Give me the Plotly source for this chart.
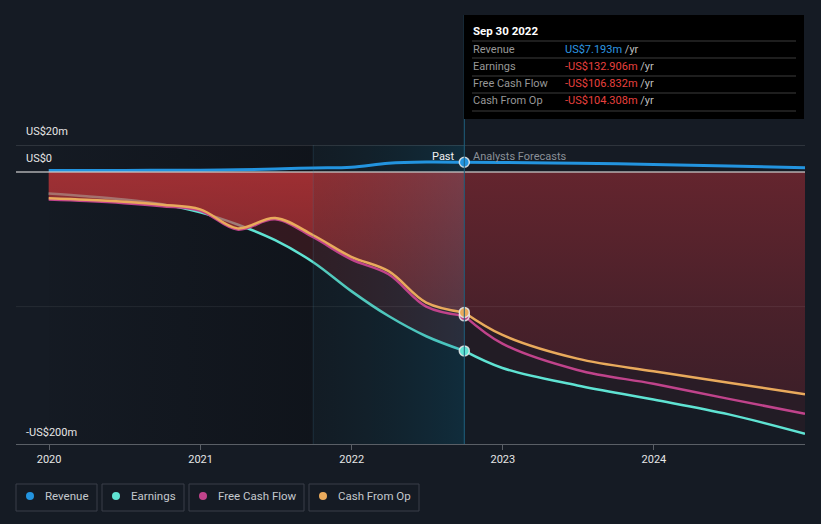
import plotly.graph_objects as go

# ---------------- data (US$ millions) ----------------
past_dates = ["2019-12-31", "2020-03-31", "2020-06-30", "2020-09-30", "2020-12-31",
              "2021-03-31", "2021-06-30", "2021-09-30", "2021-12-31", "2022-03-31",
              "2022-06-30", "2022-09-30"]
revenue_past = [1.1, 1.1, 1.1, 1.2, 1.2, 1.6, 2.2, 3.0, 3.5, 6.5, 7.4, 7.193]
earnings_past = [-16.0, -18.0, -20.4, -24.0, -30.0, -39.0, -50.7, -67.0, -88.5, -107.0, -122.0, -132.906]
fcf_past = [-20.5, -21.6, -23.2, -25.5, -28.8, -42.8, -35.2, -48.5, -65.0, -76.0, -100.0, -106.832]
cfo_past = [-19.6, -20.7, -22.2, -24.4, -27.8, -41.9, -34.2, -47.0, -63.0, -73.7, -97.0, -104.308]

fc_dates = ["2022-09-30", "2022-12-31", "2023-06-30", "2023-12-31", "2024-06-30", "2024-12-31"]
revenue_fc = [7.193, 7.0, 6.4, 5.6, 4.4, 3.1]
earnings_fc = [-132.906, -145.6, -158.5, -169.0, -180.0, -194.4]
fcf_fc = [-106.832, -127.5, -147.0, -157.3, -168.5, -179.6]
cfo_fc = [-104.308, -121.0, -138.6, -148.0, -156.5, -165.0]

series_names = ["Revenue", "Earnings", "Free Cash Flow", "Cash From Op"]
tooltip_date = "Sep 30 2022"
tooltip_values = ["US$7.193m", "-US$132.906m", "-US$106.832m", "-US$104.308m"]
y_labels = ["US$20m", "US$0", "-US$200m"]

# ---------------- style ----------------
BG = "#151b24"
C_REV = "#2394df"
C_EARN = "#5fe3d3"
C_FCF = "#c0438b"
C_CFO = "#e9aa5c"
FONT = "Roboto, sans-serif"

Y_MIN, Y_MAX = -202, 20
X_RANGE = ["2019-10-13", "2024-12-31"]
W, H = 821, 524
ML, MR, MT, MB = 16, 16, 145, 80
PW, PH = W - ML - MR, H - MT - MB
Y_LABEL_PX = [131, 158, 432]


def px(xp):
    return (xp - ML) / PW


def py(yp):
    return (H - MB - yp) / PH


band_start = past_dates[7]
band_end = past_dates[-1]

fig = go.Figure()

# darkened history region
fig.add_trace(go.Scatter(
    x=[past_dates[0], band_start, band_start, past_dates[0]],
    y=[Y_MAX, Y_MAX, Y_MIN, Y_MIN], fill="toself", mode="lines", line=dict(width=0),
    fillgradient=dict(type="horizontal",
                      colorscale=[[0, "rgba(5,6,9,0.04)"], [1, "rgba(5,6,9,0.33)"]]),
    hoverinfo="skip", showlegend=False))

# faint fills
fig.add_trace(go.Scatter(x=past_dates, y=earnings_past, fill="tozeroy", mode="lines",
                         line=dict(width=0, shape="spline"),
                         fillcolor="rgba(190,45,50,0.2)", hoverinfo="skip", showlegend=False))
fig.add_trace(go.Scatter(x=fc_dates, y=earnings_fc, fill="tozeroy", mode="lines",
                         line=dict(width=0, shape="spline"),
                         fillcolor="rgba(190,45,50,0.08)", hoverinfo="skip", showlegend=False))
fig.add_trace(go.Scatter(x=fc_dates, y=fcf_fc, fill="tozeroy", mode="lines",
                         line=dict(width=0, shape="spline"),
                         fillcolor="rgba(190,45,50,0.05)", hoverinfo="skip", showlegend=False))

# past earnings line (below the strong fill)
fig.add_trace(go.Scatter(x=past_dates, y=earnings_past, mode="lines",
                         line=dict(color=C_EARN, width=2.5, shape="spline"),
                         hoverinfo="skip", showlegend=False))

# strong fills to cash from op
fig.add_trace(go.Scatter(
    x=past_dates, y=cfo_past, fill="tozeroy", mode="lines", line=dict(width=0, shape="spline"),
    fillgradient=dict(type="vertical", start=-105, stop=0,
                      colorscale=[[0, "rgba(200,55,58,0.4)"], [1, "rgba(200,55,58,0.72)"]]),
    hoverinfo="skip", showlegend=False))
fig.add_trace(go.Scatter(
    x=fc_dates, y=cfo_fc, fill="tozeroy", mode="lines", line=dict(width=0, shape="spline"),
    fillgradient=dict(type="vertical", start=-165, stop=0,
                      colorscale=[[0, "rgba(190,50,58,0.13)"], [0.4, "rgba(190,50,58,0.22)"],
                                  [1, "rgba(190,50,58,0.39)"]]),
    hoverinfo="skip", showlegend=False))

# last-year highlight band
fig.add_trace(go.Scatter(
    x=[band_start, band_end, band_end, band_start],
    y=[Y_MAX, Y_MAX, Y_MIN, Y_MIN], fill="toself", mode="lines", line=dict(width=0),
    fillgradient=dict(type="horizontal",
                      colorscale=[[0, "rgba(0,35,40,0.12)"], [1, "rgba(0,100,135,0.24)"]]),
    hoverinfo="skip", showlegend=False))

# lines
fig.add_trace(go.Scatter(x=fc_dates, y=earnings_fc, mode="lines",
                         line=dict(color=C_EARN, width=2.5, shape="spline"),
                         hoverinfo="skip", showlegend=False))
for xs, ys, c in [(past_dates, fcf_past, C_FCF), (fc_dates, fcf_fc, C_FCF),
                  (past_dates, cfo_past, C_CFO), (fc_dates, cfo_fc, C_CFO),
                  (past_dates, revenue_past, C_REV), (fc_dates, revenue_fc, C_REV)]:
    fig.add_trace(go.Scatter(x=xs, y=ys, mode="lines",
                             line=dict(color=c, width=3 if c == C_REV else 2.5, shape="spline"),
                             hoverinfo="skip", showlegend=False))

# markers at latest actual
for ys, c in [(revenue_past, C_REV), (earnings_past, C_EARN), (fcf_past, C_FCF), (cfo_past, C_CFO)]:
    fig.add_trace(go.Scatter(x=[past_dates[-1]], y=[ys[-1]], mode="markers",
                             marker=dict(size=10, color=c,
                                         line=dict(color="rgba(235,235,235,0.85)", width=1.5)),
                             hoverinfo="skip", showlegend=False))

shapes = []
annotations = []

# gridlines
shapes.append(dict(type="line", xref="paper", x0=0, x1=1, yref="y", y0=20, y1=20,
                   line=dict(color="rgba(255,255,255,0.22)", width=1), layer="above"))
shapes.append(dict(type="line", xref="paper", x0=0, x1=1, yref="y", y0=-100, y1=-100,
                   line=dict(color="rgba(255,255,255,0.07)", width=1), layer="above"))
shapes.append(dict(type="line", xref="paper", x0=0, x1=1, yref="y", y0=0, y1=0,
                   line=dict(color="rgba(200,200,200,0.85)", width=1.5), layer="above"))
# band edges
shapes.append(dict(type="line", xref="x", x0=band_start, x1=band_start, yref="paper", y0=0, y1=1,
                   line=dict(color="rgba(70,130,160,0.22)", width=1), layer="above"))
shapes.append(dict(type="line", xref="x", x0=band_end, x1=band_end, yref="paper", y0=0, y1=py(15),
                   line=dict(color="#1f5f7e", width=1), layer="above"))

# y-axis labels
for lab, yp in zip(y_labels, Y_LABEL_PX):
    annotations.append(dict(text=lab, xref="paper", x=px(24), xanchor="left", yref="paper",
                            y=py(yp), yanchor="middle", showarrow=False,
                            font=dict(family=FONT, size=11, color="#e6e6e6")))

# past / forecast labels
annotations.append(dict(text="Past", xref="x", x=band_end, xanchor="right", xshift=-7,
                        yref="paper", y=py(156), yanchor="middle", showarrow=False,
                        font=dict(family=FONT, size=11, color="#f0f0f0")))
annotations.append(dict(text="Analysts Forecasts", xref="x", x=band_end, xanchor="left", xshift=7,
                        yref="paper", y=py(156), yanchor="middle", showarrow=False,
                        font=dict(family=FONT, size=11, color="#8a9098")))

# tooltip box
shapes.append(dict(type="rect", xref="paper", x0=px(464), x1=px(804), yref="paper",
                   y0=py(119), y1=py(15), fillcolor="#000000", line=dict(width=0), layer="above"))
for yl in [41, 58, 76, 93, 111]:
    shapes.append(dict(type="line", xref="paper", x0=px(472), x1=px(796), yref="paper",
                       y0=py(yl), y1=py(yl), line=dict(color="#3c3c3c", width=1), layer="above"))
annotations.append(dict(text="<b>" + tooltip_date + "</b>", xref="paper", x=px(471), xanchor="left",
                        yref="paper", y=py(31), yanchor="middle", showarrow=False,
                        font=dict(family=FONT, size=11.5, color="#ffffff")))
val_colors = ["#2d97e2", "#e8403e", "#e8403e", "#e8403e"]
for i, (name, val, vc) in enumerate(zip(series_names, tooltip_values, val_colors)):
    yc = 49 + i * 17.3
    annotations.append(dict(text=name, xref="paper", x=px(471), xanchor="left", yref="paper",
                            y=py(yc), yanchor="middle", showarrow=False,
                            font=dict(family=FONT, size=11, color="#979797")))
    annotations.append(dict(text="<span style='color:%s'>%s</span> /yr" % (vc, val), xref="paper",
                            x=px(563), xanchor="left", yref="paper", y=py(yc), yanchor="middle",
                            showarrow=False, font=dict(family=FONT, size=11, color="#bdbdbd")))

# legend
leg_boxes = [(16, 97), (102, 184), (189, 304), (309, 419)]
leg_colors = [C_REV, C_EARN, C_FCF, C_CFO]
for (x0, x1), name, c in zip(leg_boxes, series_names, leg_colors):
    shapes.append(dict(type="rect", xref="paper", x0=px(x0), x1=px(x1), yref="paper",
                       y0=py(511), y1=py(484), line=dict(color="#3a3f48", width=1),
                       fillcolor="rgba(0,0,0,0)"))
    cx = x0 + 14
    shapes.append(dict(type="circle", xref="paper", x0=px(cx - 4), x1=px(cx + 4), yref="paper",
                       y0=py(500), y1=py(492), fillcolor=c, line=dict(width=0)))
    annotations.append(dict(text=name, xref="paper", x=px(x0 + 27), xanchor="left", yref="paper",
                            y=py(496), yanchor="middle", showarrow=False,
                            font=dict(family=FONT, size=11.5, color="#c4c8cd")))

fig.update_layout(
    width=W, height=H, margin=dict(l=ML, r=MR, t=MT, b=MB),
    paper_bgcolor=BG, plot_bgcolor=BG, showlegend=False,
    font=dict(family=FONT),
    xaxis=dict(type="date", range=X_RANGE, showgrid=False, zeroline=False,
               tick0="2020-01-01", dtick="M12", tickformat="%Y",
               ticks="outside", ticklen=5, tickcolor="#5a5f66",
               showline=True, linecolor="#5a5f66", linewidth=1,
               tickfont=dict(family=FONT, size=11, color="#e6e6e6")),
    yaxis=dict(range=[Y_MIN, Y_MAX], showgrid=False, zeroline=False, showticklabels=False),
    shapes=shapes, annotations=annotations,
)

fig.write_html("out.html", config={"displayModeBar": False},
               post_script="document.body.style.margin='0';document.body.style.background='%s';" % BG)
